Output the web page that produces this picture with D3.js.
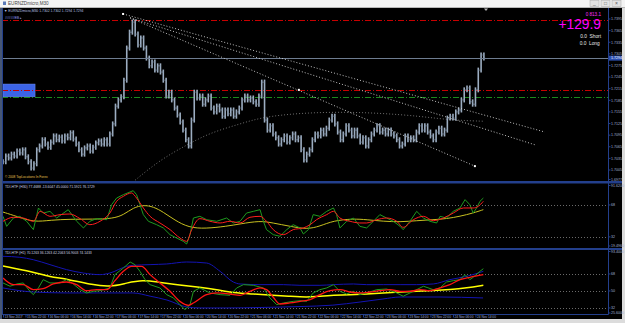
<!DOCTYPE html>
<html>
<head>
<meta charset="utf-8">
<script src="https://cdn.jsdelivr.net/npm/d3@7"></script>
<style>
html, body { margin: 0; padding: 0; background: #e4e4e4; overflow: hidden; }
svg { display: block; }
text { font-family: "Liberation Sans", Arial, sans-serif; }
</style>
</head>
<body>
<svg id="chart" width="625" height="323"></svg>
<script>
// ---- data ----
var symbol = 'EURNZDmicro,M30'

// hourly closes, EURNZD
var closes = [
  1.7026, 1.7041, 1.7036, 1.7046, 1.7041, 1.7054, 1.7049, 1.7057, 1.7039, 1.7026,
  1.7010, 1.7021, 1.7057, 1.7067, 1.7083, 1.7072, 1.7064, 1.7077, 1.7093, 1.7083,
  1.7090, 1.7080, 1.7093, 1.7088, 1.7101, 1.7085, 1.7072, 1.7057, 1.7046, 1.7062,
  1.7067, 1.7054, 1.7064, 1.7075, 1.7080, 1.7072, 1.7083, 1.7072, 1.7098, 1.7124,
  1.7170, 1.7186, 1.7194, 1.7237, 1.7320, 1.7361, 1.7387, 1.7356, 1.7328, 1.7346,
  1.7320, 1.7294, 1.7274, 1.7284, 1.7263, 1.7274, 1.7258, 1.7237, 1.7196, 1.7206,
  1.7186, 1.7165, 1.7147, 1.7129, 1.7108, 1.7083, 1.7067, 1.7134, 1.7206, 1.7191,
  1.7196, 1.7175, 1.7186, 1.7196, 1.7165, 1.7155, 1.7170, 1.7160, 1.7144, 1.7160,
  1.7150, 1.7160, 1.7144, 1.7155, 1.7165, 1.7186, 1.7196, 1.7186, 1.7191, 1.7181,
  1.7175, 1.7196, 1.7232, 1.7134, 1.7108, 1.7119, 1.7098, 1.7088, 1.7072, 1.7083,
  1.7093, 1.7077, 1.7088, 1.7098, 1.7083, 1.7088, 1.7057, 1.7031, 1.7046, 1.7057,
  1.7083, 1.7098, 1.7093, 1.7108, 1.7098, 1.7113, 1.7134, 1.7144, 1.7124, 1.7103,
  1.7083, 1.7098, 1.7119, 1.7108, 1.7093, 1.7108, 1.7093, 1.7077, 1.7088, 1.7067,
  1.7083, 1.7098, 1.7108, 1.7119, 1.7103, 1.7108, 1.7098, 1.7108, 1.7098, 1.7093,
  1.7083, 1.7067, 1.7072, 1.7093, 1.7083, 1.7088, 1.7083, 1.7103, 1.7119, 1.7108,
  1.7119, 1.7103, 1.7093, 1.7083, 1.7103, 1.7113, 1.7098, 1.7108, 1.7139, 1.7144,
  1.7139, 1.7155, 1.7160, 1.7186, 1.7212, 1.7217, 1.7181, 1.7175, 1.7212, 1.7263,
  1.7302, 1.7294
]

var timeLabels = ['13 Nov 2017', '15 Nov 22:00', '16 Nov 06:00', '16 Nov 14:00', '16 Nov 22:00',
  '17 Nov 06:00', '17 Nov 14:00', '17 Nov 22:00', '20 Nov 06:00', '20 Nov 14:00', '20 Nov 22:00',
  '21 Nov 06:00', '21 Nov 14:00', '21 Nov 22:00', '22 Nov 06:00', '22 Nov 14:00', '22 Nov 22:00',
  '23 Nov 06:00', '23 Nov 14:00', '23 Nov 22:00', '24 Nov 06:00', '24 Nov 14:00']

var priceTicks = [1.7395, 1.7365, 1.7335, 1.7305, 1.7275, 1.7245, 1.7215, 1.7185,
  1.7155, 1.7125, 1.7095, 1.7065, 1.7035, 1.7005]

var redLevels = [1.7392, 1.7212]
var greenLevels = [1.7194]
var zone = [[0, 1.7227], [11.4, 1.7194]]   // [hour, price] corners

// trend lines: [start, end] in [hour, price]
var trendLines = [
  [[42.7, 1.7408], [192.7, 1.7103]],
  [[45.2, 1.7398], [189.2, 1.7070]],
  [[45.2, 1.7398], [167.8, 1.7015]]
]
var trendDots = [[42.7, 1.7408], [105.2, 1.7212], [167.8, 1.7015]]

var arcPoints = [[46.2, 1.6974], [55.8, 1.7031], [65.4, 1.7070], [73.6, 1.7101], [84.3, 1.7124],
  [92.4, 1.7142], [105.6, 1.7152], [119.8, 1.7155], [134.0, 1.7152], [148.3, 1.7144],
  [158.9, 1.7134], [170.7, 1.7131]]

// TDI on H30
var tdi1Green = [[0, 55.2], [1.3, 43.9], [3.7, 53.3], [6, 55.2], [8.4, 49.6], [10.8, 40.2], [12.6, 64.6],
  [14.3, 58.9], [16.7, 60.8], [19.1, 53.3], [23.2, 62.7], [26.2, 49.6], [28.6, 42.1], [30.9, 49.6],
  [33.3, 52.6], [36.9, 51.4], [38.6, 68.3], [40.4, 75.8], [42.8, 79.6], [46.3, 84.1], [47.5, 79.6],
  [48.7, 68.3], [49.9, 57.1], [51.7, 49.6], [54.6, 45.8], [57, 42.1], [59.4, 34.5], [61.7, 30.8],
  [64.1, 27.0], [65.3, 24.0], [66.5, 34.5], [67.7, 53.3], [70, 55.2], [72.4, 51.4], [76, 49.6],
  [79.5, 53.3], [81.9, 47.7], [84.3, 49.6], [86.6, 58.9], [89, 60.8], [91.4, 62.7], [92.6, 49.6],
  [93.7, 40.2], [96.1, 34.5], [98.5, 32.7], [100.9, 40.2], [103.2, 45.8], [105.6, 42.1], [106.8, 35.3],
  [108.6, 40.2], [110.3, 57.1], [112.7, 55.2], [115.1, 60.8], [117.5, 64.6], [118.6, 57.1], [119.8, 42.1],
  [122.2, 49.6], [124.6, 53.3], [126.9, 43.9], [129.3, 42.1], [131.7, 49.6], [134, 57.1], [136.4, 53.3],
  [138.8, 49.6], [141.2, 43.9], [142.3, 40.2], [144.7, 49.6], [147.1, 60.8], [149.5, 53.3], [151.8, 49.6],
  [154.2, 47.7], [155.4, 55.2], [157.7, 53.3], [160.1, 60.8], [162.5, 64.6], [164.3, 74.0], [166, 68.3],
  [167.2, 58.9], [168.4, 64.6], [169.6, 72.1], [170.8, 75.8]]
var tdi1Red = [[0, 49.6], [3.7, 54.1], [7.2, 53.3], [10.8, 49.6], [13.2, 60.8], [16.7, 55.2], [20.3, 57.1],
  [23.8, 57.8], [27.4, 52.6], [30.9, 45.8], [34.5, 49.6], [38, 58.9], [40.4, 72.1], [42.8, 77.7],
  [45.7, 81.5], [47.5, 75.8], [49.9, 64.6], [52.3, 55.2], [55.8, 47.7], [59.4, 40.2], [62.9, 30.8],
  [65.3, 27.0], [67.1, 40.2], [70, 52.6], [73.6, 49.6], [77.2, 47.7], [80.7, 49.6], [84.3, 47.7],
  [87.8, 54.1], [91.4, 55.2], [93.7, 49.6], [96.1, 40.2], [99.7, 34.5], [103.2, 40.2], [106.8, 42.1],
  [109.2, 45.8], [111.5, 51.4], [115.1, 57.1], [117.5, 60.8], [119.8, 53.3], [123.4, 49.6], [126.9, 47.7],
  [129.3, 47.7], [132.9, 51.4], [136.4, 53.3], [140, 49.6], [142.3, 42.8], [145.9, 51.4], [149.5, 55.2],
  [153, 50.3], [156.6, 53.3], [160.1, 58.9], [163.7, 64.6], [167.2, 64.6], [169, 66.5], [170.8, 72.1]]
var tdi1Yellow = [[0, 60], [5, 55], [11, 48.5], [17, 51], [24, 52], [32, 52], [39, 52.5], [43, 57],
  [46.3, 65], [50, 68], [53.5, 66], [57, 60], [61, 51], [66, 42.5], [72, 41.3], [79.5, 44], [84.3, 46.6],
  [91.4, 50.3], [96, 47.7], [102, 44], [108, 40.5], [112.7, 44], [117.4, 50.3], [124.6, 52.5],
  [129.3, 51.4], [135.2, 49.6], [141.2, 48.8], [147.1, 50.3], [153.1, 51.4], [157.8, 52.5],
  [162.5, 55.2], [167.2, 58.9], [170.8, 62.7]]
var tdi1Levels = [68, 32]
var tdi1Values = '77.4688 -13.6047 45.0000 71.5921 76.1729'

// TDI on H1
var tdi2Green = [[0, 58.5], [2.5, 55.0], [4.9, 57.4], [7.2, 58.5], [9.6, 49.6], [10.8, 46.1], [12.6, 53.2],
  [14.3, 62.0], [16.7, 58.5], [20.3, 58.5], [22.6, 62.0], [25, 57.4], [27.4, 51.4], [29.7, 47.9],
  [32.1, 49.6], [34.5, 50.3], [38, 53.2], [39.8, 67.3], [42.8, 74.3], [45.2, 80.7], [46.9, 77.9],
  [48.7, 70.8], [50.5, 62.0], [52.3, 56.7], [55.8, 53.2], [58.2, 46.1], [60.6, 42.6], [62.9, 35.5],
  [64.7, 30.2], [66.5, 35.5], [67.7, 49.6], [70, 53.2], [73.6, 47.9], [77.2, 46.1], [80.7, 45.4],
  [83.1, 53.2], [85.5, 56.7], [89, 56.0], [92.6, 53.2], [94.9, 42.6], [97.3, 35.5], [99.7, 37.3],
  [103.2, 39.0], [105.6, 39.7], [108, 39.0], [110.3, 47.9], [112.7, 51.4], [115.1, 53.2], [117.5, 56.7],
  [119.8, 49.6], [122.2, 46.8], [124.6, 49.6], [126.9, 46.1], [129.3, 47.9], [132.9, 51.4], [136.4, 52.1],
  [140, 47.9], [142.3, 44.4], [145.9, 49.6], [149.5, 55.0], [153, 51.4], [155.4, 53.2], [157.7, 59.5],
  [160.1, 60.9], [162.5, 62.0], [164.3, 67.3], [166, 62.0], [167.2, 64.5], [169.6, 70.8], [170.8, 73.6]]
var tdi2Red = [[0, 63.7], [3.7, 56.7], [7.2, 56.7], [10.8, 51.4], [14.3, 52.4], [17.9, 57.4], [22.6, 59.5],
  [26.2, 56.7], [29.7, 50.3], [33.3, 51.4], [36.9, 51.4], [39.8, 60.9], [42.8, 70.8], [45.7, 76.1],
  [49.3, 76.1], [52.3, 67.3], [55.8, 58.5], [59.4, 49.6], [62.9, 39.0], [65.9, 34.8], [67.7, 37.3],
  [72.4, 46.1], [76, 47.9], [80.7, 46.8], [84.3, 45.4], [87.8, 49.6], [91.4, 53.2], [93.7, 51.4],
  [96.1, 43.3], [98.5, 36.2], [102, 37.3], [105.6, 39.0], [109.2, 40.8], [112.7, 46.1], [116.3, 50.3],
  [119.8, 51.4], [123.4, 48.9], [126.9, 47.9], [130.5, 48.9], [134, 50.3], [137.6, 51.4], [141.2, 49.6],
  [144.7, 49.6], [148.3, 51.4], [151.8, 50.3], [155.4, 53.2], [158.9, 56.7], [162.5, 62.0], [166, 64.5],
  [170.8, 67.3]]
var tdi2Yellow = [[0, 76.5], [10.7, 70.1], [16.7, 64.8], [22.8, 62.7], [32, 56.3], [38, 54.2], [44, 58.5],
  [49.8, 61.6], [54.8, 59.5], [63, 56.3], [70, 53.9], [76, 51.4], [81.9, 47.9], [89, 46.8], [96.1, 45.4],
  [102, 44.4], [108, 43.3], [112.7, 44.4], [117.5, 45.4], [123.4, 46.1], [129.3, 46.8], [135.2, 47.9],
  [141.2, 48.9], [147.1, 49.7], [153, 50.3], [158.9, 51.4], [164.9, 53.2], [170.8, 56.0]]
var tdi2Upper = [[0, 86.7], [6, 85.7], [10.8, 83.1], [16.7, 77.9], [22.6, 72.6], [28.6, 69.0], [34.5, 67.3],
  [38, 69.0], [44, 76.1], [46.3, 77.2], [52.3, 77.9], [58.2, 78.6], [65.3, 80.7], [72.4, 79.6],
  [77.2, 70.8], [81.9, 59.5], [84.3, 57.4], [91.4, 56.7], [99.7, 56.7], [105.6, 56.0], [112.7, 56.0],
  [117.5, 56.7], [124.6, 57.4], [129.3, 56.7], [135.2, 56.7], [141.2, 56.7], [147.1, 56.7], [153, 57.4],
  [158.9, 62.0], [164.9, 65.5], [170.8, 70.8]]
var tdi2Lower = [[0, 53.2], [6, 50.3], [10.7, 48.9], [22.8, 47.9], [34.5, 47.9], [46.2, 47.9], [52.3, 44.5],
  [58.3, 40.4], [65.4, 33.0], [70, 32.0], [79.6, 32.0], [91.4, 32.5], [105.6, 33.5], [117.3, 35.0],
  [127, 38.3], [135.1, 41.5], [141.2, 43.6], [155.4, 43.6], [170.7, 42.6]]
var tdi2Levels = [68, 50, 32]
var tdi2Values = '70.1263 36.1263 42.2063 56.9003 74.1433'

var eaName = '#####EB \u25B8'
var balanceText = '0 813.1'
var profitText = '+129.9'
var shortLots = '0.0', longLots = '0.0'
var copyright = '\u00A9 2008 TopLocations In Forex'

// ---- layout ----
var config = {
  left: 2, axisX: 608, right: 622,
  main: { top: 8, bottom: 181 },
  sub1: { top: 184, bottom: 248 },
  sub2: { top: 250, bottom: 314 },
  axisColor: '#233f8c',
  labelColor: '#a4b0d8'
}

var svg = d3.select('#chart')

var x = d3.scaleLinear().domain([0, 171]).range([3, 483.9])
var yMain = d3.scaleLinear().domain([1.7005, 1.7395]).range([170, 19])
var ySub1 = d3.scaleLinear().domain([19.496, 91.62]).range([config.sub1.bottom, config.sub1.top])
var ySub2 = d3.scaleLinear().domain([25.6, 93.4]).range([config.sub2.bottom, config.sub2.top])

// window chrome
svg.append('rect').attr('width', 625).attr('height', 323).attr('fill', '#dcdcdc')
svg.append('rect').attr('width', 625).attr('height', 8).attr('fill', '#f4f4f4')
svg.append('line').attr('x1', 0).attr('x2', 625).attr('y1', 7.5).attr('y2', 7.5)
    .attr('stroke', '#b8b8b8').attr('stroke-width', 1)
svg.append('rect').attr('x', 3).attr('y', 1.5).attr('width', 3).attr('height', 3.5).attr('fill', '#5a7ab8')
svg.append('text').attr('x', 8).attr('y', 5.2).attr('font-size', 4.6).attr('fill', '#444').text(symbol)

var buttons = [590, 601, 612]
buttons.forEach(function (bx, i) {
  svg.append('rect').attr('x', bx).attr('y', 0.5).attr('width', 9).attr('height', 6)
      .attr('fill', '#e2e2e2').attr('stroke', '#a8a8a8').attr('stroke-width', 0.5)
  svg.append('text').attr('x', bx + 4.5).attr('y', 5).attr('text-anchor', 'middle')
      .attr('font-size', 5).attr('fill', '#555').text(['_', '\u25A1', '\u00D7'][i])
})

svg.append('rect').attr('x', 0).attr('y', 8).attr('width', 2).attr('height', 311).attr('fill', '#465674')
svg.append('rect').attr('x', config.left).attr('y', 8)
    .attr('width', config.right - config.left).attr('height', 311).attr('fill', '#000')

// clip paths
var defs = svg.append('defs')
;['main', 'sub1', 'sub2'].forEach(function (k) {
  defs.append('clipPath').attr('id', 'clip-' + k).append('rect')
      .attr('x', config.left).attr('y', config[k].top)
      .attr('width', config.axisX - config.left).attr('height', config[k].bottom - config[k].top)
})

// ---- main window ----
var main = svg.append('g').attr('clip-path', 'url(#clip-main)')

main.append('rect')
    .attr('x', x(zone[0][0])).attr('y', yMain(zone[0][1]))
    .attr('width', x(zone[1][0]) - x(zone[0][0]))
    .attr('height', yMain(zone[1][1]) - yMain(zone[0][1]))
    .attr('fill', '#3c64e6').attr('stroke', '#6f8ef0').attr('stroke-width', 0.5)

function hline (g, yv, color, dash) {
  g.append('line')
      .attr('x1', config.left).attr('x2', config.axisX)
      .attr('y1', yv).attr('y2', yv)
      .attr('stroke', color).attr('stroke-width', 1)
      .attr('stroke-dasharray', dash)
}

redLevels.forEach(function (p) { hline(main, Math.round(yMain(p)) + 0.5, '#c80000', '6,2,1,2') })
greenLevels.forEach(function (p) { hline(main, Math.round(yMain(p)) + 0.5, '#1d8a1d', '6,2,1,2') })

// arc object
main.append('path')
    .datum(arcPoints)
    .attr('d', d3.line().x(d => x(d[0])).y(d => yMain(d[1])).curve(d3.curveBasis))
    .attr('fill', 'none').attr('stroke', '#8c8c8c').attr('stroke-width', 0.8)
    .attr('stroke-dasharray', '1,2')

// bars: open = previous close
var bars = main.append('g')
closes.forEach(function (c, i) {
  var o = i ? closes[i - 1] : c
  var yHi = yMain(Math.max(o, c)) - 2.5
  var yLo = yMain(Math.min(o, c)) + 2.5
  var bx = x(i)
  bars.append('line').attr('x1', bx).attr('x2', bx).attr('y1', yHi).attr('y2', yLo)
      .attr('stroke', '#9cadc1').attr('stroke-width', 1.6)
  bars.append('line').attr('x1', bx - 1.2).attr('x2', bx).attr('y1', yMain(o)).attr('y2', yMain(o))
      .attr('stroke', '#7a8ba0').attr('stroke-width', 1)
  bars.append('line').attr('x1', bx).attr('x2', bx + 1.2).attr('y1', yMain(c)).attr('y2', yMain(c))
      .attr('stroke', '#7a8ba0').attr('stroke-width', 1)
})

// bid line
var last = closes[closes.length - 1]
hline(main, Math.round(yMain(last)) + 0.5, '#6e7c90', null)

// trend lines
trendLines.forEach(function (t) {
  main.append('line')
      .attr('x1', x(t[0][0])).attr('y1', yMain(t[0][1]))
      .attr('x2', x(t[1][0])).attr('y2', yMain(t[1][1]))
      .attr('stroke', '#d4d4d4').attr('stroke-width', 0.9)
      .attr('stroke-dasharray', '1,2')
})
trendDots.forEach(function (d) {
  main.append('rect').attr('x', x(d[0]) - 1).attr('y', yMain(d[1]) - 1)
      .attr('width', 2).attr('height', 2).attr('fill', '#fff')
})

// shift marker
svg.append('path').attr('d', 'M484,8.5 L488,8.5 L486,11 Z').attr('fill', '#b4b4b4')

// texts main
var prev = closes[closes.length - 2]
var ohlc = [prev, Math.max(prev, last), Math.min(prev, last), last].map(d3.format('.4f')).join(' ')
svg.append('text').attr('x', 4).attr('y', 12.2).attr('font-size', 3.4).attr('fill', '#b8c2e0')
    .text('\u25BC ' + symbol + '  ' + ohlc)
svg.append('text').attr('x', 5).attr('y', 19.3).attr('font-size', 3.4).attr('fill', '#9aa0ff')
    .text(eaName)
svg.append('text').attr('x', 601).attr('y', 15.5).attr('text-anchor', 'end')
    .attr('font-size', 4.6).attr('fill', '#ff30ff').text(balanceText)
svg.append('text').attr('x', 601).attr('y', 28.5).attr('text-anchor', 'end')
    .attr('font-size', 13.8).attr('fill', '#ff00ff').text(profitText)
svg.append('text').attr('x', 601).attr('y', 38).attr('text-anchor', 'end')
    .attr('font-size', 4.8).attr('fill', '#e8e8e8').attr('xml:space', 'preserve')
    .text(shortLots + '  Short')
svg.append('text').attr('x', 601).attr('y', 45).attr('text-anchor', 'end')
    .attr('font-size', 4.8).attr('fill', '#e8e8e8').attr('xml:space', 'preserve')
    .text(longLots + '  Long ')
svg.append('text').attr('x', 5).attr('y', 177.5).attr('font-size', 3.2).attr('fill', '#e0c050')
    .text(copyright)

// ---- indicator windows ----
function drawLine (g, data, y, color, width, curve) {
  g.append('path')
      .datum(data)
      .attr('d', d3.line().x(d => x(d[0])).y(d => y(d[1])).curve(curve))
      .attr('fill', 'none').attr('stroke', color).attr('stroke-width', width)
      .attr('stroke-linejoin', 'round')
}

var sub1 = svg.append('g').attr('clip-path', 'url(#clip-sub1)')
tdi1Levels.forEach(function (v) { hline(sub1, Math.round(ySub1(v)) + 0.5, '#6a6a6a', '1,2') })
drawLine(sub1, tdi1Yellow, ySub1, '#c8c020', 1, d3.curveBasis)
drawLine(sub1, tdi1Green, ySub1, '#1f9a1f', 1, d3.curveLinear)
drawLine(sub1, tdi1Red, ySub1, '#ff1e1e', 1, d3.curveMonotoneX)
svg.append('text').attr('x', 5).attr('y', 188.3).attr('font-size', 3.4).attr('fill', '#cfd4e0')
    .text('TDI-HTF (H30) ' + tdi1Values)

var sub2 = svg.append('g').attr('clip-path', 'url(#clip-sub2)')
tdi2Levels.forEach(function (v) { hline(sub2, Math.round(ySub2(v)) + 0.5, '#6a6a6a', '1,2') })
drawLine(sub2, tdi2Upper, ySub2, '#1414b4', 1, d3.curveMonotoneX)
drawLine(sub2, tdi2Lower, ySub2, '#1414b4', 1, d3.curveMonotoneX)
drawLine(sub2, tdi2Yellow, ySub2, '#ffff00', 1.5, d3.curveBasis)
drawLine(sub2, tdi2Green, ySub2, '#1f9a1f', 1, d3.curveLinear)
drawLine(sub2, tdi2Red, ySub2, '#ff1414', 1.3, d3.curveMonotoneX)
svg.append('text').attr('x', 5).attr('y', 254.3).attr('font-size', 3.4).attr('fill', '#cfd4e0')
    .text('TDI-HTF (H1) ' + tdi2Values)

// ---- frames and separators ----
svg.append('rect').attr('x', config.left).attr('y', config.main.bottom)
    .attr('width', config.right - config.left).attr('height', 2.5).attr('fill', config.axisColor)
svg.append('rect').attr('x', config.left).attr('y', config.sub1.bottom)
    .attr('width', config.right - config.left).attr('height', 2).attr('fill', config.axisColor)
svg.append('line').attr('x1', config.axisX + 0.5).attr('x2', config.axisX + 0.5)
    .attr('y1', 8).attr('y2', config.sub2.bottom + 0.5).attr('stroke', config.axisColor)
svg.append('line').attr('x1', config.left).attr('x2', config.axisX + 0.5)
    .attr('y1', config.sub2.bottom + 0.5).attr('y2', config.sub2.bottom + 0.5).attr('stroke', config.axisColor)
svg.append('line').attr('x1', config.left + 0.5).attr('x2', config.left + 0.5)
    .attr('y1', 8).attr('y2', config.sub2.bottom).attr('stroke', config.axisColor)

// ---- price axis ----
var axisG = svg.append('g')
function axisLabel (yv, txt) {
  axisG.append('line').attr('x1', config.axisX).attr('x2', config.axisX + 2.5)
      .attr('y1', yv).attr('y2', yv).attr('stroke', config.axisColor)
  axisG.append('text').attr('x', config.axisX + 3).attr('y', yv + 1.3)
      .attr('font-size', 3.6).attr('fill', config.labelColor).text(txt)
}
priceTicks.forEach(function (p) { axisLabel(yMain(p), d3.format('.4f')(p)) })
axisLabel(config.main.bottom - 1.5, d3.format('.4f')(yMain.invert(config.main.bottom)))

// current price box
var yLast = yMain(last)
axisG.append('rect').attr('x', config.axisX + 1).attr('y', yLast - 2.5)
    .attr('width', 13).attr('height', 5).attr('fill', '#2c4fb0')
axisG.append('text').attr('x', config.axisX + 3).attr('y', yLast + 1.3)
    .attr('font-size', 3.6).attr('fill', '#fff').text(d3.format('.4f')(last))

tdi1Levels.forEach(function (v) { axisLabel(ySub1(v), v) })
axisLabel(config.sub1.top + 1.5, d3.format('.4f')(ySub1.domain()[1]))
axisLabel(config.sub1.bottom - 2, d3.format('.4f')(ySub1.domain()[0]))
tdi2Levels.forEach(function (v) { axisLabel(ySub2(v), v) })
axisLabel(config.sub2.top + 1.5, d3.format('.4f')(ySub2.domain()[1]))
axisLabel(config.sub2.bottom - 1, d3.format('.4f')(ySub2.domain()[0]))

// ---- time axis ----
timeLabels.forEach(function (t, i) {
  var tx = x(i * 8)
  axisG.append('line').attr('x1', tx + 0.5).attr('x2', tx + 0.5)
      .attr('y1', config.sub2.bottom + 1).attr('y2', config.sub2.bottom + 3.5)
      .attr('stroke', config.axisColor)
  axisG.append('text').attr('x', tx + 1.5).attr('y', 318.3)
      .attr('font-size', 3.2).attr('fill', config.labelColor).text(t)
})
</script>
</body>
</html>
